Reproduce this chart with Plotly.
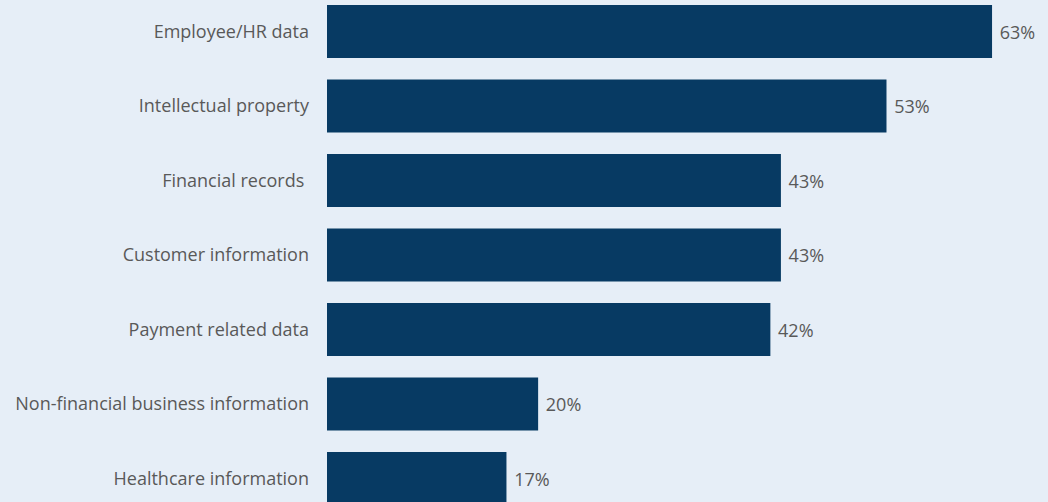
import plotly.graph_objects as go

categories = [
    "Employee/HR data",
    "Intellectual property",
    "Financial records\u00a0",
    "Customer information",
    "Payment related data",
    "Non-financial business information",
    "Healthcare information",
]
values = [63, 53, 43, 43, 42, 20, 17]
value_labels = [f"\u00a0{v}%" for v in values]

BAR = "#073a63"
BG = "#e6eef7"
TEXT = "#595959"
FONT = "Open Sans"
SIZE = 18

fig = go.Figure(
    go.Bar(
        x=values,
        y=categories,
        orientation="h",
        marker=dict(color=BAR, line=dict(width=0)),
        width=0.71,
        text=value_labels,
        textposition="outside",
        textfont=dict(family=FONT, size=SIZE, color=TEXT),
        cliponaxis=False,
        hoverinfo="skip",
    )
)

fig.update_layout(
    width=1048,
    height=502,
    margin=dict(l=327, r=0, t=0, b=0),
    paper_bgcolor=BG,
    plot_bgcolor=BG,
    showlegend=False,
    font=dict(family=FONT, size=SIZE, color=TEXT),
    xaxis=dict(
        range=[0, 68.3],
        showgrid=False,
        zeroline=False,
        showticklabels=False,
        showline=False,
    ),
    yaxis=dict(
        type="category",
        range=[6.315, -0.423],
        showgrid=False,
        zeroline=False,
        showline=False,
        ticks="",
        ticklabelstandoff=17,
        tickfont=dict(family=FONT, size=SIZE, color=TEXT),
    ),
)

fig.write_html("out.html")
